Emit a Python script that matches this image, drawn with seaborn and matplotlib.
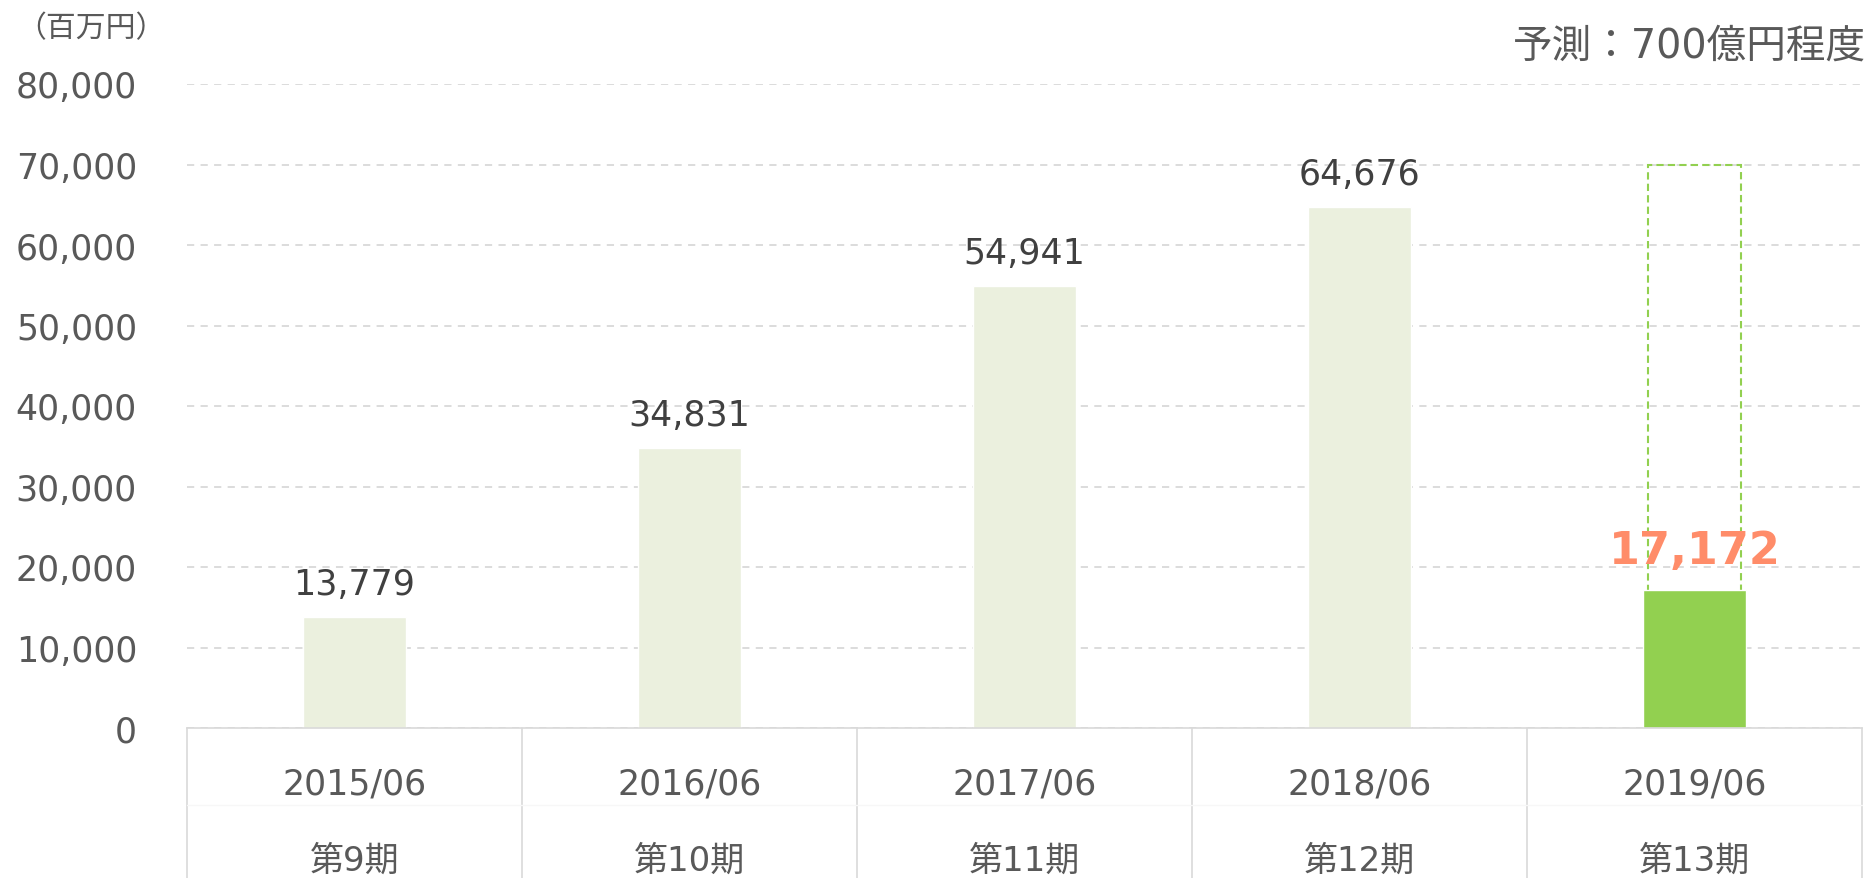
import numpy as np
import pandas as pd
import matplotlib.pyplot as plt
import seaborn as sns

# data
periods = ['2015/06', '2016/06', '2017/06', '2018/06', '2019/06']
terms = ['第9期', '第10期', '第11期', '第12期', '第13期']
sales = [13779, 34831, 54941, 64676, 17172]
forecast = 70000
yticks = [0, 10000, 20000, 30000, 40000, 50000, 60000, 70000, 80000]

sns.set_style('white')
plt.rcParams['font.family'] = ['DejaVu Sans', 'Noto Sans CJK JP']

fig = plt.figure(figsize=(18.73, 8.79), dpi=100)
ax = fig.add_axes([187/1873, 150/879, 1675/1873, 644/879])

df = pd.DataFrame({'period': periods, 'sales': sales})
bar_colors = ['#EBF0DE'] * 4 + ['#92D050']
sns.barplot(data=df, x='period', y='sales', hue='period', palette=bar_colors,
            legend=False, width=0.31, saturation=1, ax=ax, zorder=2)

# forecast box (dashed)
ax.bar(4, forecast, width=0.28, fill=False, edgecolor='#92D050',
       linestyle=(0, (3.5, 2)), linewidth=1.5, zorder=1.5)

ax.set_xlim(-0.5, 4.5)
ax.set_ylim(0, 80000)
ax.set_axisbelow(True)
ax.yaxis.grid(True, color='#D9D9D9', linestyle=(0, (4, 3.5)), linewidth=1.3)
ax.set_yticks(yticks)
ax.set_yticklabels([f'{v:,}' for v in yticks])
ax.tick_params(axis='y', length=0, pad=36, labelsize=25, labelcolor='#595959')
ax.set_xticks([])
ax.set_xlabel('')
ax.set_ylabel('')
for s in ['top', 'right', 'left']:
    ax.spines[s].set_visible(False)
ax.spines['bottom'].set_color('#D9D9D9')
ax.spines['bottom'].set_linewidth(1.2)

# table under the axis
tr = ax.get_xaxis_transform()
for i in range(len(periods) + 1):
    ax.plot([i - 0.5, i - 0.5], [0, -0.3], transform=tr, clip_on=False,
            color='#D9D9D9', lw=1.2)
ax.plot([-0.5, 4.5], [-0.1196, -0.1196], transform=tr, clip_on=False,
        color='#F7F7F7', lw=1)
for i in range(len(periods)):
    ax.text(i, -0.0855, periods[i], transform=tr, ha='center', va='center',
            fontsize=25, color='#595959')
    ax.text(i, -0.205, terms[i], transform=tr, ha='center', va='center',
            fontsize=24.5, color='#595959')

# value labels
for i, v in enumerate(sales[:-1]):
    ax.annotate(f'{v:,}', (i, v), xytext=(0, 16.5), textcoords='offset points',
                ha='center', va='baseline', fontsize=25, color='#404040')
ax.annotate(f'{sales[-1]:,}', (4, sales[-1]), xytext=(0, 19.4),
            textcoords='offset points', ha='center', va='baseline',
            fontsize=32, fontweight='bold', color='#FF8C69', zorder=5)

fig.text(91/1873, 1 - 29/879, '（百万円）', ha='center', va='center',
         fontsize=21.5, color='#595959')
fig.text(1866/1873, 1 - 47/879, '予測：700億円程度', ha='right', va='center',
         fontsize=28.5, color='#595959')

fig.savefig('out.png', dpi=100)
